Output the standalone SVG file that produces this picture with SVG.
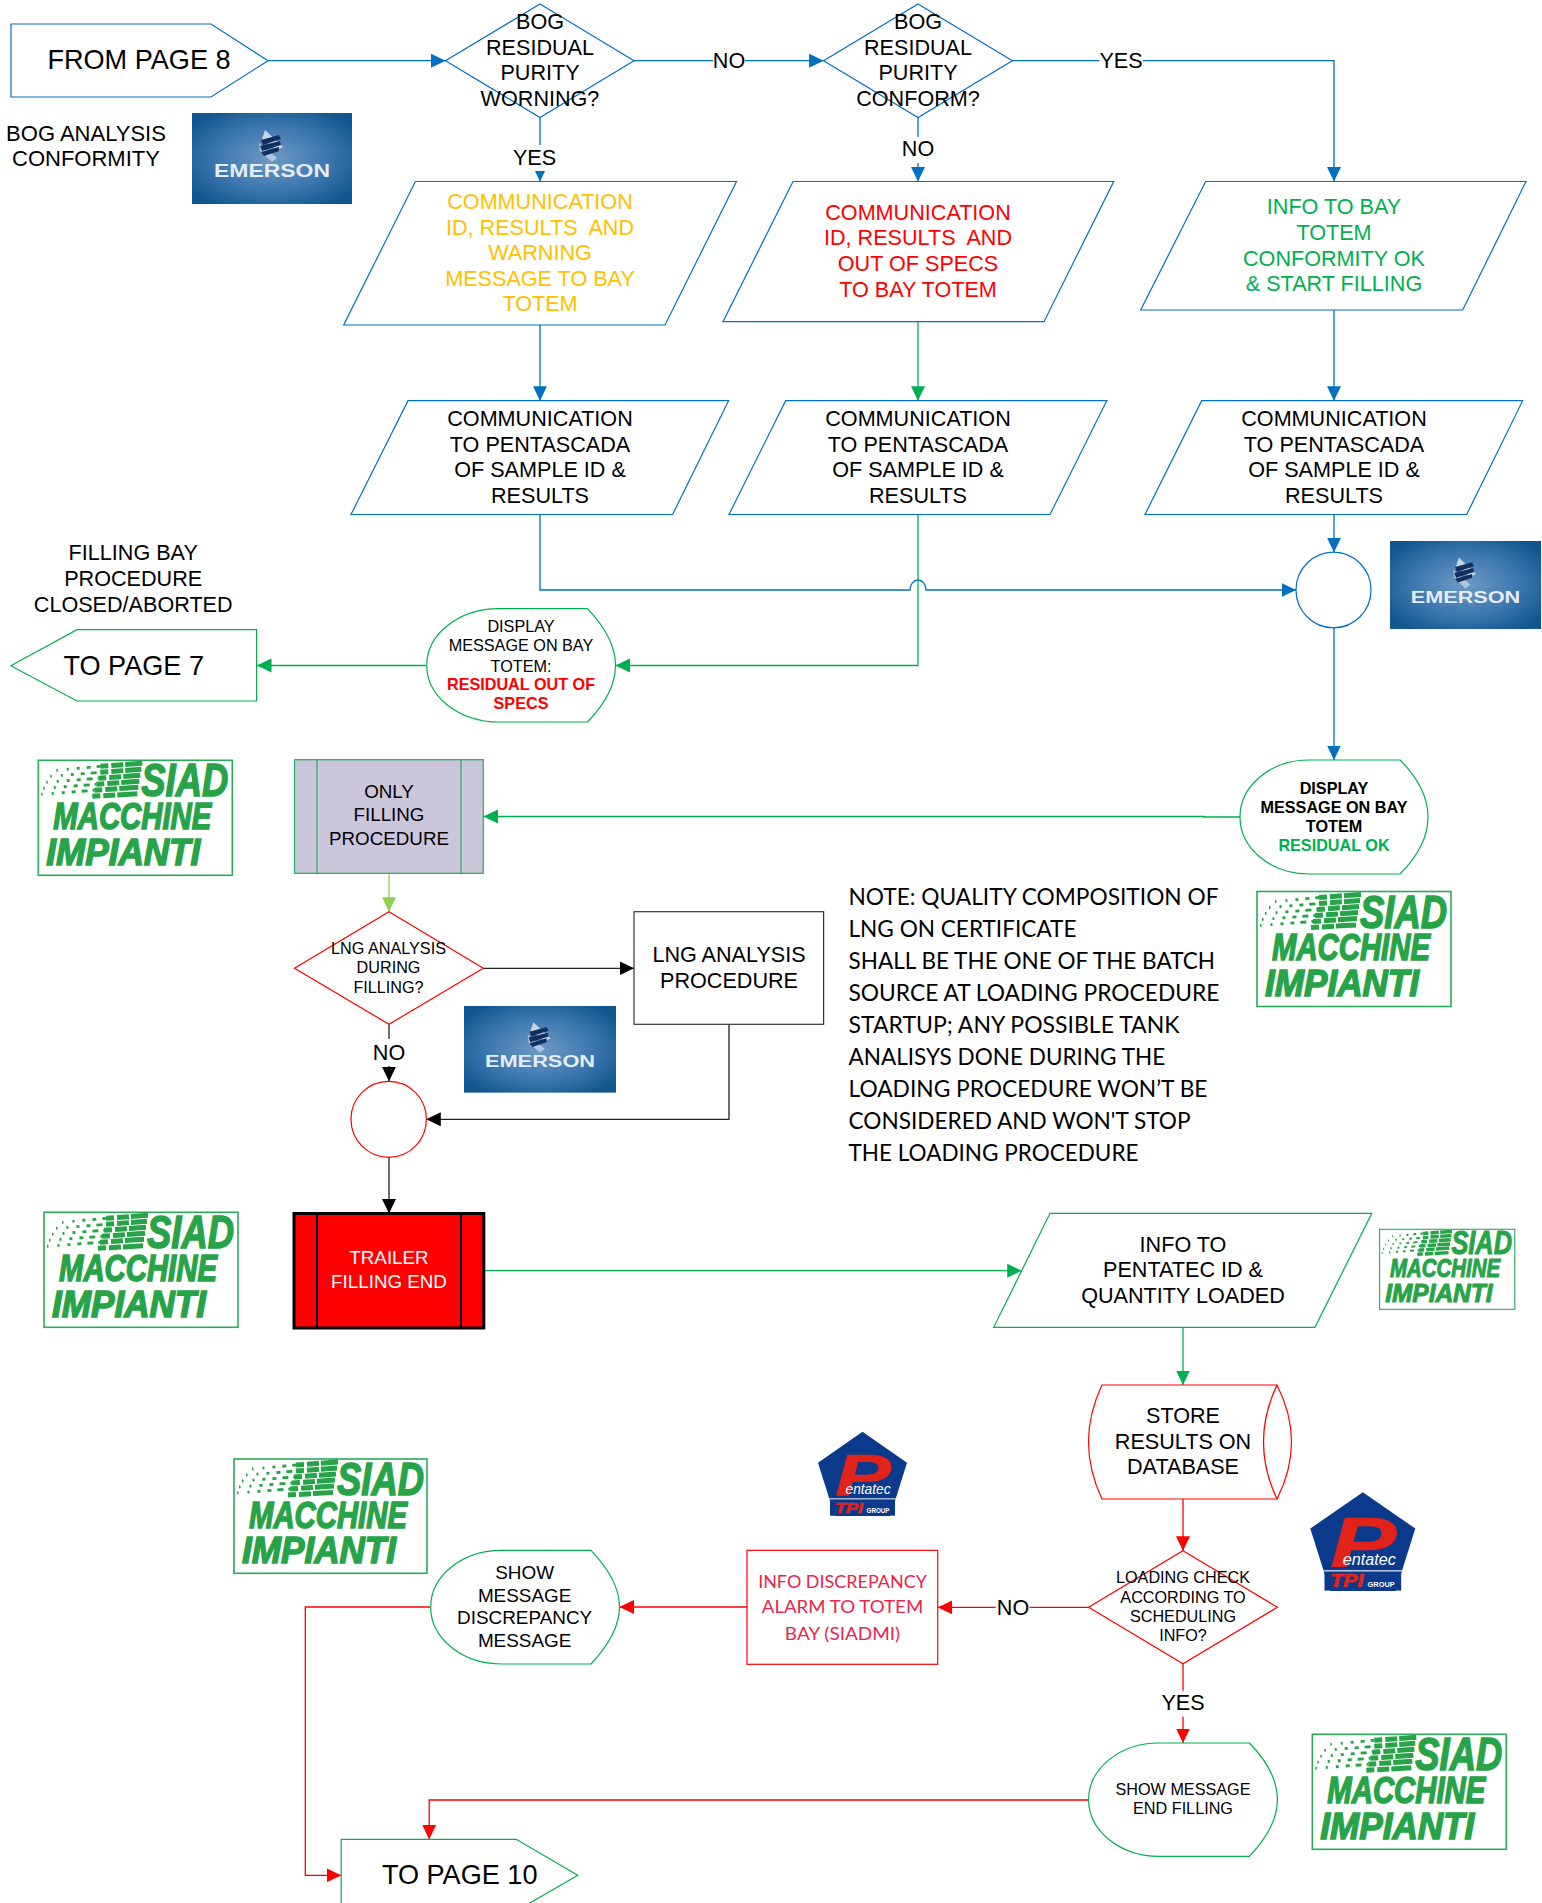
<svg xmlns="http://www.w3.org/2000/svg" xmlns:xlink="http://www.w3.org/1999/xlink" width="1542" height="1903" viewBox="0 0 1542 1903">
<style>
text{font-family:"Liberation Sans",Arial,sans-serif;text-anchor:middle;fill:#000;white-space:pre}
.s21{font-size:21.6px}.s16{font-size:16.2px}.s19{font-size:18.8px}.s18{font-size:18.9px}.s26{font-size:27.1px}
.bold{font-weight:700}.yel{fill:#FFC000}.red{fill:#F00}.grn{fill:#00B050}.wht{fill:#fff}
.nb,.ng,.nr,.nk{fill:#fff;stroke-width:1.2}
.nb{stroke:#0070C0}.ng{stroke:#00B050}.nr{stroke:#F00}.nk{stroke:#333}
.c{fill:none;stroke-width:1.3}
.cb{stroke:#0070C0}.cg{stroke:#00B050}.cr{stroke:#F00}.ck{stroke:#222}.cl{stroke:#92D050}
.note{font-family:Lato,"Open Sans",sans-serif;text-anchor:start;font-size:22.8px}
.disc{font-family:Lato,"Open Sans",sans-serif;font-size:18.2px;fill:#E8254A}
.siadbox{fill:#fff;stroke:#2BAA5A;stroke-width:1.6}
.siad{font-style:italic;font-weight:700;fill:#27A348;stroke:#27A348;stroke-width:1.5}
.em{font-weight:700;fill:#E4ECF4}
.pe{font-style:italic;fill:#fff}
.pr{font-style:italic;font-weight:700;fill:#E2231A;stroke:#E2231A;stroke-width:.6}
.pg{font-weight:700;fill:#fff}
</style>
<defs>
<marker id="hb" markerUnits="userSpaceOnUse" markerWidth="14.5" markerHeight="14" refX="14.5" refY="7" orient="auto"><path d="M0,0L14.5,7L0,14z" fill="#0070C0"/></marker>
<marker id="hg" markerUnits="userSpaceOnUse" markerWidth="14.5" markerHeight="14" refX="14.5" refY="7" orient="auto"><path d="M0,0L14.5,7L0,14z" fill="#00B050"/></marker>
<marker id="hr" markerUnits="userSpaceOnUse" markerWidth="14.5" markerHeight="14" refX="14.5" refY="7" orient="auto"><path d="M0,0L14.5,7L0,14z" fill="#F00"/></marker>
<marker id="hk" markerUnits="userSpaceOnUse" markerWidth="14.5" markerHeight="14" refX="14.5" refY="7" orient="auto"><path d="M0,0L14.5,7L0,14z" fill="#000"/></marker>
<marker id="hl" markerUnits="userSpaceOnUse" markerWidth="14.5" markerHeight="14" refX="14.5" refY="7" orient="auto"><path d="M0,0L14.5,7L0,14z" fill="#92D050"/></marker>
<radialGradient id="emg" cx="50%" cy="50%" r="62%"><stop offset="0" stop-color="#6E9AC4"/><stop offset=".55" stop-color="#3E78B0"/><stop offset="1" stop-color="#12568F"/></radialGradient>
<g id="half" fill="none" stroke="#27A348">
<g stroke-width="2.8" stroke-dasharray="1.5 9 2 8 3 7 4 6 6 5 8">
<line x1="18" y1="10" x2="62" y2="6"/>
<line x1="12" y1="16" x2="62" y2="12"/>
<line x1="8" y1="22" x2="60" y2="18"/>
<line x1="5" y1="28" x2="58" y2="24"/>
<line x1="3" y1="34" x2="56" y2="30"/>
</g>
<g stroke-width="5" stroke-dasharray="8 3 12 2 40">
<line x1="62" y1="6" x2="104" y2="3"/>
<line x1="62" y1="12" x2="103" y2="9"/>
<line x1="60" y1="18" x2="102" y2="15"/>
<line x1="58" y1="24" x2="101" y2="21"/>
<line x1="56" y1="30" x2="100" y2="27"/>
<line x1="54" y1="36" x2="99" y2="33.5"/>
</g>
</g>
<g id="emblem">
<polygon points="73,17 91,34 85,37 70,26" fill="#C6D6E6"/>
<polygon points="67,30 85,45 80,49 68,38" fill="#AFC6DC"/>
<polygon points="69,27 87,22 89,26 71,32" fill="#12305F"/>
<polygon points="68,33 88,28 89,32 70,38" fill="#12305F"/>
<polygon points="69,39 87,34 87,38 72,43" fill="#12305F"/>
</g>
</defs>
<rect width="1542" height="1903" fill="#fff"/>

<g id="connectors">
<path class="c cb" marker-end="url(#hb)" d="M268,60.7H445.5"/>
<path class="c cb" marker-end="url(#hb)" d="M634,60.7H823.6"/>
<path class="c cb" marker-end="url(#hb)" d="M1012.4,60.7H1334V181.5"/>
<path class="c cb" marker-end="url(#hb)" d="M540,117.5V181.5"/>
<path class="c cb" marker-end="url(#hb)" d="M918,117.5V181.5"/>
<path class="c cb" marker-end="url(#hb)" d="M540,325V400.7"/>
<path class="c cb" marker-end="url(#hb)" d="M1334,310V400.7"/>
<path class="c cb" marker-end="url(#hb)" d="M1334,514.5V552.3"/>
<path class="c cb" marker-end="url(#hb)" d="M540,514.5V590H910A8,10 0 0 1 926,590H1296"/>
<path class="c cb" marker-end="url(#hb)" d="M1334,628V760"/>
<path class="c cg" marker-end="url(#hg)" d="M918,321.7V400.7"/>
<path class="c cg" marker-end="url(#hg)" d="M918,514.5V665.5H615.5"/>
<path class="c cg" marker-end="url(#hg)" d="M426.7,665.5H257"/>
<path class="c cg" marker-end="url(#hg)" d="M1240,817H1204V816.5H483.5"/>
<path class="c cg" marker-end="url(#hg)" d="M484,1270.7H1021.7"/>
<path class="c cg" marker-end="url(#hg)" d="M1183,1327.3V1385"/>
<path class="c cl" marker-end="url(#hl)" d="M389,873.3V911.7"/>
<path class="c ck" marker-end="url(#hk)" d="M483.3,968.3H634"/>
<path class="c ck" marker-end="url(#hk)" d="M729,1024.3V1119.3H426.3"/>
<path class="c ck" marker-end="url(#hk)" d="M389,1024.3V1081.3"/>
<path class="c ck" marker-end="url(#hk)" d="M389,1157.3V1213.5"/>
<path class="c cr" marker-end="url(#hr)" d="M1183,1499V1550.7"/>
<path class="c cr" marker-end="url(#hr)" d="M1088.6,1607.3H937.7"/>
<path class="c cr" marker-end="url(#hr)" d="M747,1607H619.5"/>
<path class="c cr" marker-end="url(#hr)" d="M430.7,1607H305.3V1875.3H341.2"/>
<path class="c cr" marker-end="url(#hr)" d="M1183,1663.7V1743"/>
<path class="c cr" marker-end="url(#hr)" d="M1088.6,1800H429.2V1839.3"/>
<g id="connector-labels">
<rect x="713" y="48" width="32" height="26" fill="#fff"/><text class="s21" x="729" y="68.3">NO</text>
<rect x="1099.4" y="48" width="43.6" height="26" fill="#fff"/><text class="s21" x="1121" y="68.3">YES</text>
<rect x="512" y="145" width="46" height="26" fill="#fff"/><text class="s21" x="534.5" y="164.6">YES</text>
<rect x="900" y="137" width="36" height="26" fill="#fff"/><text class="s21" x="918" y="155.9">NO</text>
<rect x="371" y="1039" width="36" height="27" fill="#fff"/><text class="s21" x="389" y="1059.9">NO</text>
<rect x="995.7" y="1594" width="33.9" height="26" fill="#fff"/><text class="s21" x="1013" y="1614.9">NO</text>
<rect x="1160" y="1690.7" width="46" height="26" fill="#fff"/><text class="s21" x="1183" y="1710.3">YES</text>
</g>
</g>

<g id="from-page-8"><polygon class="nb" points="11,24 211,24 268,60.7 211,97 11,97"/><text class="s26" x="139" y="68.7">FROM PAGE 8</text></g>
<g id="bog-analysis-label"><text class="s21" style="font-size:22px" x="86" y="141">BOG ANALYSIS</text><text class="s21" style="font-size:22px" x="86" y="165.6">CONFORMITY</text></g>

<g id="emerson-1" transform="translate(192,113)"><rect width="160" height="91" fill="url(#emg)"/><use xlink:href="#emblem" href="#emblem"/><text class="em" x="80" y="64" font-size="18" textLength="116" lengthAdjust="spacingAndGlyphs">EMERSON</text></g>

<g id="decision-warning"><polygon class="nb" points="540,4 634,60.7 540,117.5 445.5,60.7"/>
<text class="s21" x="540" y="29.3">BOG</text><text class="s21" x="540" y="55">RESIDUAL</text><text class="s21" x="540" y="80">PURITY</text><text class="s21" x="540" y="105.8">WORNING?</text></g>
<g id="decision-conform"><polygon class="nb" points="918,4 1012.4,60.7 918,117.5 823.6,60.7"/>
<text class="s21" x="918" y="29.3">BOG</text><text class="s21" x="918" y="55">RESIDUAL</text><text class="s21" x="918" y="80">PURITY</text><text class="s21" x="918" y="105.8">CONFORM?</text></g>

<g id="comm-warning"><polygon class="nb" points="415.4,181.5 736.5,181.5 665,325 343.7,325"/>
<text class="s21 yel" x="540" y="208.6">COMMUNICATION</text><text class="s21 yel" x="540" y="234.6">ID, RESULTS  AND</text><text class="s21 yel" x="540" y="259.6">WARNING</text><text class="s21 yel" x="540" y="285.6">MESSAGE TO BAY</text><text class="s21 yel" x="540" y="310.6">TOTEM</text></g>
<g id="comm-out-of-specs"><polygon class="nb" points="793,181.5 1113.7,181.5 1044,321.7 723,321.7"/>
<text class="s21 red" x="918" y="219.6">COMMUNICATION</text><text class="s21 red" x="918" y="244.6">ID, RESULTS  AND</text><text class="s21 red" x="918" y="270.6">OUT OF SPECS</text><text class="s21 red" x="918" y="296.6">TO BAY TOTEM</text></g>
<g id="info-to-bay"><polygon class="nb" points="1205.6,181.5 1526,181.5 1462.7,310 1140.7,310"/>
<text class="s21 grn" x="1334" y="213.6">INFO TO BAY</text><text class="s21 grn" x="1334" y="239.6">TOTEM</text><text class="s21 grn" x="1334" y="265.6">CONFORMITY OK</text><text class="s21 grn" x="1334" y="290.6">&amp; START FILLING</text></g>

<g id="pentascada-1"><polygon class="nb" points="408,400.7 728.6,400.7 672.6,514.5 351,514.5"/>
<text class="s21" x="540" y="425.6">COMMUNICATION</text><text class="s21" x="540" y="451.6">TO PENTASCADA</text><text class="s21" x="540" y="476.6">OF SAMPLE ID &amp;</text><text class="s21" x="540" y="502.6">RESULTS</text></g>
<g id="pentascada-2"><polygon class="nb" points="785.7,400.7 1106.8,400.7 1050,514.5 729,514.5"/>
<text class="s21" x="918" y="425.6">COMMUNICATION</text><text class="s21" x="918" y="451.6">TO PENTASCADA</text><text class="s21" x="918" y="476.6">OF SAMPLE ID &amp;</text><text class="s21" x="918" y="502.6">RESULTS</text></g>
<g id="pentascada-3"><polygon class="nb" points="1201.7,400.7 1522.7,400.7 1466.7,514.5 1145,514.5"/>
<text class="s21" x="1334" y="425.6">COMMUNICATION</text><text class="s21" x="1334" y="451.6">TO PENTASCADA</text><text class="s21" x="1334" y="476.6">OF SAMPLE ID &amp;</text><text class="s21" x="1334" y="502.6">RESULTS</text></g>

<g id="junction-blue"><ellipse class="nb" cx="1333.5" cy="590" rx="37.5" ry="37.8"/></g>
<g id="emerson-2" transform="translate(1390,541) scale(.944,.967)"><rect width="160" height="91" fill="url(#emg)"/><use xlink:href="#emblem" href="#emblem"/><text class="em" x="80" y="64" font-size="18" textLength="116" lengthAdjust="spacingAndGlyphs">EMERSON</text></g>

<g id="filling-bay-label"><text class="s21" x="133.2" y="559.9">FILLING BAY</text><text class="s21" x="133.2" y="585.9">PROCEDURE</text><text class="s21" x="133.2" y="611.9">CLOSED/ABORTED</text></g>
<g id="to-page-7"><polygon class="ng" points="10.8,665.7 77,629.7 256.6,629.7 256.6,701 77,701"/><text class="s26" x="133.7" y="674.5">TO PAGE 7</text></g>
<g id="display-out-of-specs"><path class="ng" d="M426.7,665.5A72.3,56.8 0 0 1 499,608.7H587.5C602,624 615.5,644 615.5,665.5C615.5,687 602,707 587.5,722H499A72.3,56.8 0 0 1 426.7,665.5Z"/>
<text class="s16" x="521" y="631.8">DISPLAY</text><text class="s16" x="521" y="650.8">MESSAGE ON BAY</text><text class="s16" x="521" y="671.5">TOTEM:</text><text class="s16 bold red" x="521" y="690">RESIDUAL OUT OF</text><text class="s16 bold red" x="521" y="709">SPECS</text></g>
<g id="display-ok"><path class="ng" d="M1240,817A69,57 0 0 1 1309,760H1400C1415,775 1428,795 1428,817C1428,839 1415,859 1400,874H1309A69,57 0 0 1 1240,817Z"/>
<text class="s16 bold" x="1334" y="793.8">DISPLAY</text><text class="s16 bold" x="1334" y="812.8">MESSAGE ON BAY</text><text class="s16 bold" x="1334" y="831.8">TOTEM</text><text class="s16 bold grn" x="1334" y="850.8">RESIDUAL OK</text></g>

<g id="siad-1" transform="translate(38.3,760.3)"><rect class="siadbox" width="194" height="115"/><use xlink:href="#half" href="#half"/>
<text class="siad" x="146.5" y="36" font-size="47" textLength="87" lengthAdjust="spacingAndGlyphs">SIAD</text><text class="siad" x="94" y="68.6" font-size="37" textLength="158" lengthAdjust="spacingAndGlyphs">MACCHINE</text><text class="siad" x="85" y="104.3" font-size="37" textLength="154" lengthAdjust="spacingAndGlyphs">IMPIANTI</text></g>

<g id="only-filling"><rect x="294.5" y="759.7" width="188.8" height="113.6" fill="#CCC6DB" stroke="#2FB06A" stroke-width="1.3"/><path d="M317,759.7V873.3M461,759.7V873.3" stroke="#2FB06A" stroke-width="1.3" fill="none"/>
<text class="s19" x="389" y="798">ONLY</text><text class="s19" x="389" y="820.8">FILLING</text><text class="s19" x="389" y="844.8">PROCEDURE</text></g>
<g id="decision-lng"><polygon class="nr" points="389,911.7 483.3,968.3 389,1024.3 294.5,968.3"/>
<text class="s16" x="388.5" y="953.8">LNG ANALYSIS</text><text class="s16" x="388.5" y="972.8">DURING</text><text class="s16" x="388.5" y="992.5">FILLING?</text></g>
<g id="lng-procedure"><rect class="nk" x="634" y="911.7" width="189.6" height="112.6"/><text class="s21" x="729" y="961.6">LNG ANALYSIS</text><text class="s21" x="729" y="988.3">PROCEDURE</text></g>
<g id="emerson-3" transform="translate(464,1006) scale(.95,.952)"><rect width="160" height="91" fill="url(#emg)"/><use xlink:href="#emblem" href="#emblem"/><text class="em" x="80" y="64" font-size="18" textLength="116" lengthAdjust="spacingAndGlyphs">EMERSON</text></g>
<g id="note">
<text class="note" x="848.5" y="905" textLength="370" lengthAdjust="spacingAndGlyphs">NOTE: QUALITY COMPOSITION OF</text>
<text class="note" x="848.5" y="937" textLength="228" lengthAdjust="spacingAndGlyphs">LNG ON CERTIFICATE</text>
<text class="note" x="848.5" y="969" textLength="366.5" lengthAdjust="spacingAndGlyphs">SHALL BE THE ONE OF THE BATCH</text>
<text class="note" x="848.5" y="1001" textLength="371" lengthAdjust="spacingAndGlyphs">SOURCE AT LOADING PROCEDURE</text>
<text class="note" x="848.5" y="1033" textLength="331" lengthAdjust="spacingAndGlyphs">STARTUP; ANY POSSIBLE TANK</text>
<text class="note" x="848.5" y="1065" textLength="316.7" lengthAdjust="spacingAndGlyphs">ANALISYS DONE DURING THE</text>
<text class="note" x="848.5" y="1097" textLength="359" lengthAdjust="spacingAndGlyphs">LOADING PROCEDURE WON’T BE</text>
<text class="note" x="848.5" y="1129" textLength="342" lengthAdjust="spacingAndGlyphs">CONSIDERED AND WON'T STOP</text>
<text class="note" x="848.5" y="1161" textLength="290" lengthAdjust="spacingAndGlyphs">THE LOADING PROCEDURE</text>
</g>
<g id="siad-2" transform="translate(1257,891.5)"><rect class="siadbox" width="194" height="115"/><use xlink:href="#half" href="#half"/>
<text class="siad" x="146.5" y="36" font-size="47" textLength="87" lengthAdjust="spacingAndGlyphs">SIAD</text><text class="siad" x="94" y="68.6" font-size="37" textLength="158" lengthAdjust="spacingAndGlyphs">MACCHINE</text><text class="siad" x="85" y="104.3" font-size="37" textLength="154" lengthAdjust="spacingAndGlyphs">IMPIANTI</text></g>

<g id="junction-red"><ellipse class="nr" cx="388.7" cy="1119.3" rx="37.7" ry="38"/></g>
<g id="siad-3" transform="translate(44,1212.3)"><rect class="siadbox" width="194" height="115"/><use xlink:href="#half" href="#half"/>
<text class="siad" x="146.5" y="36" font-size="47" textLength="87" lengthAdjust="spacingAndGlyphs">SIAD</text><text class="siad" x="94" y="68.6" font-size="37" textLength="158" lengthAdjust="spacingAndGlyphs">MACCHINE</text><text class="siad" x="85" y="104.3" font-size="37" textLength="154" lengthAdjust="spacingAndGlyphs">IMPIANTI</text></g>
<g id="trailer-filling-end"><rect x="294" y="1213.5" width="189.8" height="114.5" fill="#F00" stroke="#000" stroke-width="3"/><path d="M317,1213.5V1328M461,1213.5V1328" stroke="#000" stroke-width="2" fill="none"/>
<text class="s19 wht" x="389" y="1264">TRAILER</text><text class="s19 wht" x="389" y="1288">FILLING END</text></g>
<g id="info-to-pentatec"><polygon class="ng" points="1050,1213.3 1371.8,1213.3 1315,1327.3 993.7,1327.3"/>
<text class="s21" x="1183" y="1251.9">INFO TO</text><text class="s21" x="1183" y="1277.3">PENTATEC ID &amp;</text><text class="s21" x="1183" y="1302.9">QUANTITY LOADED</text></g>
<g id="siad-4" transform="translate(1379.6,1229.3) scale(.697,.696)"><rect class="siadbox" width="194" height="115"/><use xlink:href="#half" href="#half"/>
<text class="siad" x="146.5" y="36" font-size="47" textLength="87" lengthAdjust="spacingAndGlyphs">SIAD</text><text class="siad" x="94" y="68.6" font-size="37" textLength="158" lengthAdjust="spacingAndGlyphs">MACCHINE</text><text class="siad" x="85" y="104.3" font-size="37" textLength="154" lengthAdjust="spacingAndGlyphs">IMPIANTI</text></g>

<g id="store-results"><path class="nr" d="M1102,1385H1277Q1306,1442 1277,1499H1102Q1075,1442 1102,1385Z"/><path class="c cr" d="M1277,1385Q1250,1442 1277,1499"/>
<text class="s21" x="1183" y="1422.9">STORE</text><text class="s21" x="1183" y="1448.9">RESULTS ON</text><text class="s21" x="1183" y="1474.3">DATABASE</text></g>

<g id="pentatec-1" transform="translate(818,1431.7)"><polygon points="44.5,0 89,31 72.3,84.3 16.7,84.3 0,31" fill="#0B3A8C"/>
<text class="pr" x="45" y="64" font-size="60" textLength="56" lengthAdjust="spacingAndGlyphs">P</text><rect x="12" y="64" width="65" height="20" fill="#0B3A8C"/>
<text class="pe" x="50" y="62" font-size="14.5" textLength="45" lengthAdjust="spacingAndGlyphs">entatec</text><rect x="11" y="66.5" width="67" height="1.2" fill="#C8D4E8"/>
<text class="pr" x="31" y="81" font-size="15" textLength="28" lengthAdjust="spacingAndGlyphs">TPI</text><text class="pg" x="60" y="81" font-size="6.5" textLength="23" lengthAdjust="spacingAndGlyphs">GROUP</text></g>
<g id="pentatec-2" transform="translate(1310.3,1492.3) scale(1.18,1.17)"><polygon points="44.5,0 89,31 72.3,84.3 16.7,84.3 0,31" fill="#0B3A8C"/>
<text class="pr" x="45" y="64" font-size="60" textLength="56" lengthAdjust="spacingAndGlyphs">P</text><rect x="12" y="64" width="65" height="20" fill="#0B3A8C"/>
<text class="pe" x="50" y="62" font-size="14.5" textLength="45" lengthAdjust="spacingAndGlyphs">entatec</text><rect x="11" y="66.5" width="67" height="1.2" fill="#C8D4E8"/>
<text class="pr" x="31" y="81" font-size="15" textLength="28" lengthAdjust="spacingAndGlyphs">TPI</text><text class="pg" x="60" y="81" font-size="6.5" textLength="23" lengthAdjust="spacingAndGlyphs">GROUP</text></g>

<g id="decision-loading"><polygon class="nr" points="1183,1550.7 1277.4,1607.3 1183,1663.7 1088.6,1607.3"/>
<text class="s16" x="1183" y="1583.1">LOADING CHECK</text><text class="s16" x="1183" y="1603.1">ACCORDING TO</text><text class="s16" x="1183" y="1622.1">SCHEDULING</text><text class="s16" x="1183" y="1641.1">INFO?</text></g>
<g id="info-discrepancy"><rect class="nr" x="747" y="1550.3" width="190.7" height="114"/>
<text class="disc" x="842.5" y="1588" textLength="168.7" lengthAdjust="spacingAndGlyphs">INFO DISCREPANCY</text><text class="disc" x="842.5" y="1613" textLength="161.4" lengthAdjust="spacingAndGlyphs">ALARM TO TOTEM</text><text class="disc" x="842.5" y="1640" textLength="115.3" lengthAdjust="spacingAndGlyphs">BAY (SIADMI)</text></g>
<g id="display-discrepancy"><path class="ng" d="M430.7,1607A70.8,56.7 0 0 1 501.5,1550.3H591C606,1566 619.5,1586 619.5,1607C619.5,1628 606,1648 591,1664H501.5A70.8,56.7 0 0 1 430.7,1607Z"/>
<text class="s18" x="524.6" y="1579.3">SHOW</text><text class="s18" x="524.6" y="1601.9">MESSAGE</text><text class="s18" x="524.6" y="1624.3">DISCREPANCY</text><text class="s18" x="524.6" y="1646.9">MESSAGE</text></g>
<g id="siad-5" transform="translate(234,1459)"><rect class="siadbox" width="193" height="114.3"/><use xlink:href="#half" href="#half"/>
<text class="siad" x="146.5" y="36" font-size="47" textLength="87" lengthAdjust="spacingAndGlyphs">SIAD</text><text class="siad" x="94" y="68.6" font-size="37" textLength="158" lengthAdjust="spacingAndGlyphs">MACCHINE</text><text class="siad" x="85" y="104.3" font-size="37" textLength="154" lengthAdjust="spacingAndGlyphs">IMPIANTI</text></g>
<g id="display-end-filling"><path class="ng" d="M1088.6,1799.7A70.4,56.7 0 0 1 1159,1743H1249.4C1264,1758 1277.4,1778 1277.4,1799.7C1277.4,1821 1264,1841 1249.4,1856.3H1159A70.4,56.7 0 0 1 1088.6,1799.7Z"/>
<text class="s16" x="1183" y="1795.1">SHOW MESSAGE</text><text class="s16" x="1183" y="1814.1">END FILLING</text></g>
<g id="siad-6" transform="translate(1312.3,1734.3)"><rect class="siadbox" width="194" height="115"/><use xlink:href="#half" href="#half"/>
<text class="siad" x="146.5" y="36" font-size="47" textLength="87" lengthAdjust="spacingAndGlyphs">SIAD</text><text class="siad" x="94" y="68.6" font-size="37" textLength="158" lengthAdjust="spacingAndGlyphs">MACCHINE</text><text class="siad" x="85" y="104.3" font-size="37" textLength="154" lengthAdjust="spacingAndGlyphs">IMPIANTI</text></g>
<g id="to-page-10"><polygon class="ng" points="341.2,1839.3 516.2,1839.3 577.7,1875.3 516.2,1911 341.2,1911"/><text class="s26" x="459.7" y="1883.5">TO PAGE 10</text></g>
</svg>
